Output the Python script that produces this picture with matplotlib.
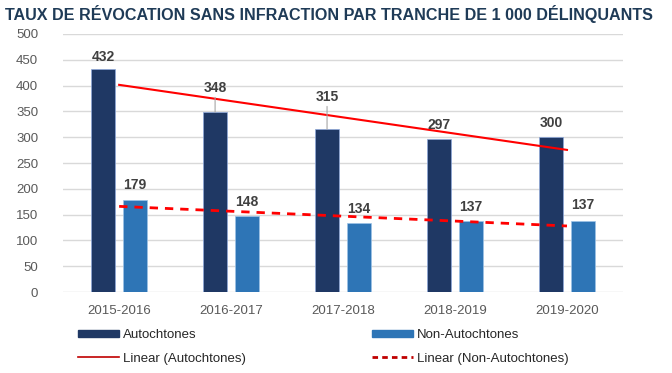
import numpy as np
import matplotlib.pyplot as plt
from matplotlib.patches import Patch
from matplotlib.lines import Line2D

# Data
periods = ["2015-2016", "2016-2017", "2017-2018", "2018-2019", "2019-2020"]
autochtones = [432, 348, 315, 297, 300]
non_autochtones = [179, 148, 134, 137, 137]

# label offsets above bar tops (pixels), leader lines where Excel moved them
auto_offsets = [12, 24, 32, 14, 14]
non_offsets = [15, 14, 14, 14, 16]

dark = "#1F3864"
light = "#2E75B6"
red = "#FF0000"
grey_txt = "#595959"

plt.rcParams["font.family"] = ["Liberation Sans", "DejaVu Sans"]

fig = plt.figure(figsize=(6.72, 3.73), dpi=100)
ax = fig.add_axes([0.094, 0.217, 0.833, 0.692])

x = np.arange(len(periods))
w = 0.22
off = 0.143

ax.bar(x - off, autochtones, w, color=dark, edgecolor="#8EA9DB", linewidth=0.5, zorder=2)
ax.bar(x + off, non_autochtones, w, color=light, edgecolor="#9DC3E6", linewidth=0.5, zorder=2)

# Linear trend lines
fa = np.polyfit(x, autochtones, 1)
fn = np.polyfit(x, non_autochtones, 1)
ax.plot(x, np.polyval(fa, x), color=red, lw=1.5, zorder=3)
ax.plot(x, np.polyval(fn, x), color=red, lw=2, ls=(0, (3, 2.5)), zorder=3)

# data labels
px = 72 / fig.dpi
for xi, v, o in zip(x - off, autochtones, auto_offsets):
    ax.annotate(str(v), (xi, v), xytext=(0, o * px), textcoords="offset points",
                ha="center", va="center", fontsize=10, fontweight="bold", color="#404040", zorder=4)
    if o > 20:
        ax.annotate("", (xi, v), xytext=(0, (o - 9) * px), textcoords="offset points",
                    arrowprops=dict(arrowstyle="-", color="#A6A6A6", lw=0.8, shrinkA=0, shrinkB=0))
for xi, v, o in zip(x + off, non_autochtones, non_offsets):
    ax.annotate(str(v), (xi, v), xytext=(0, o * px), textcoords="offset points",
                ha="center", va="center", fontsize=10, fontweight="bold", color="#404040", zorder=4)

ax.set_xlim(-0.5, len(periods) - 0.5)
ax.set_ylim(0, 500)
ax.set_yticks(range(0, 501, 50))
ax.set_xticks(x)
ax.set_xticklabels(periods)
ax.tick_params(axis="both", length=0, colors=grey_txt, labelsize=9.5)
ax.tick_params(axis="x", pad=9)
ax.tick_params(axis="y", pad=18)
ax.grid(axis="y", color="#D9D9D9", lw=1, zorder=0)
for s in ax.spines.values():
    s.set_visible(False)

fig.text(0.008, 0.962, "TAUX DE RÉVOCATION SANS INFRACTION PAR TRANCHE DE 1 000 DÉLINQUANTS",
         fontsize=11.6, fontweight="bold", color="#1F3B57", va="center", ha="left")

handles = [
    Patch(facecolor=dark, edgecolor=dark),
    Line2D([], [], color="#C00000", lw=1.2),
    Patch(facecolor=light, edgecolor=light),
    Line2D([], [], color="#C00000", lw=2, ls=(0, (2, 1.5))),
]
labels = ["Autochtones", "Linear (Autochtones)", "Non-Autochtones", "Linear (Non-Autochtones)"]
fig.legend(handles, labels, ncol=2, loc="upper left", bbox_to_anchor=(0.116, 0.117),
           frameon=False, fontsize=9.5, handlelength=3.1, handleheight=0.5,
           handletextpad=0.3, columnspacing=9.55, labelspacing=0.85, borderpad=0,
           borderaxespad=0, labelcolor="#262626")

fig.savefig("out.png", dpi=100)
